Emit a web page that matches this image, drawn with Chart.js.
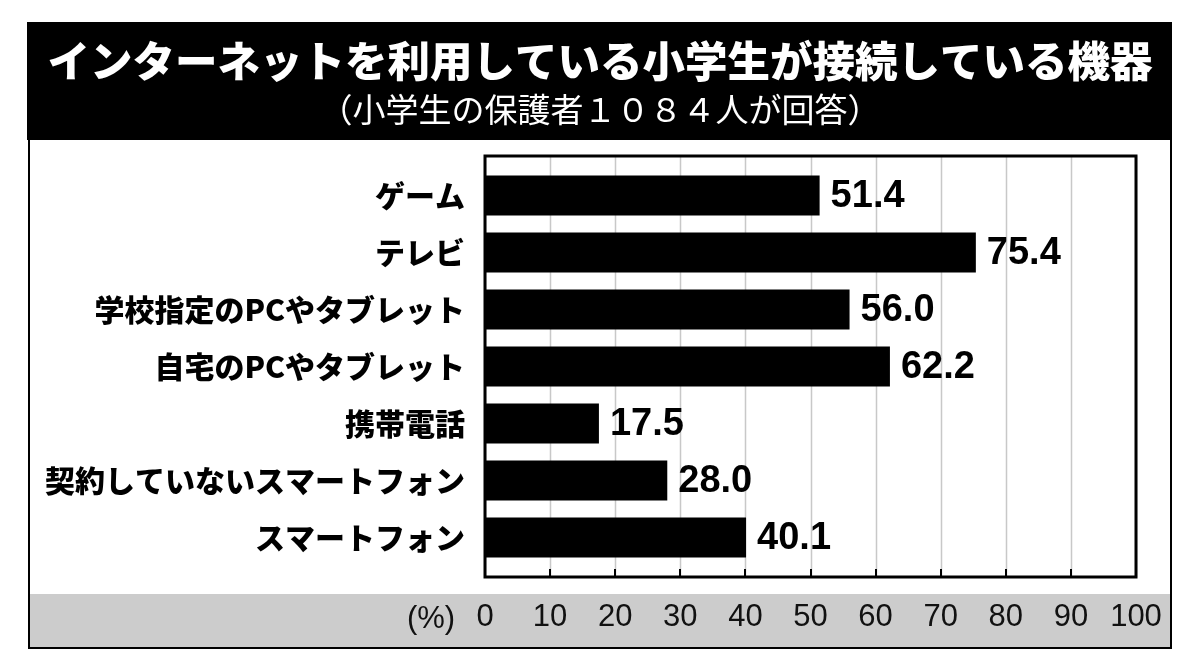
<!DOCTYPE html>
<html><head><meta charset="utf-8">
<script src="https://cdn.jsdelivr.net/npm/chart.js@4/dist/chart.umd.min.js"></script>
<style>html,body{margin:0;padding:0;background:#fff;} #wrap{width:1200px;height:669px;}</style>
</head><body><div id="wrap"><canvas id="c" width="1200" height="669"></canvas></div>
<script>
const titleText = "インターネットを利用している小学生が接続している機器";
const subtitleText = "（小学生の保護者１０８４人が回答）";
const categories = ["ゲーム","テレビ","学校指定のPCやタブレット","自宅のPCやタブレット","携帯電話","契約していないスマートフォン","スマートフォン"];
const values = [51.4, 75.4, 56.0, 62.2, 17.5, 28.0, 40.1];
const tickValues = [0,10,20,30,40,50,60,70,80,90,100];
const unitLabel = "(%)";

const CJK = '"Noto Sans CJK JP", "Noto Sans", sans-serif';
const LATIN = '"Liberation Sans", Arial, sans-serif';
const EXT = 11;

const framePlugin = {
  id: 'frame',
  beforeDraw(chart) {
    const ctx = chart.ctx;
    ctx.save();
    ctx.fillStyle = '#fff'; ctx.fillRect(0, 0, 1200, 669);
    ctx.fillStyle = '#000'; ctx.fillRect(27, 22, 1145, 118);
    ctx.fillStyle = '#cccccc'; ctx.fillRect(28, 594, 1143, 54);
    ctx.strokeStyle = '#000'; ctx.lineWidth = 2;
    ctx.beginPath();
    ctx.moveTo(29, 140); ctx.lineTo(29, 648); ctx.lineTo(1171, 648); ctx.lineTo(1171, 140);
    ctx.stroke();
    ctx.restore();
  },
  beforeDatasetsDraw(chart) {
    const ctx = chart.ctx, xs = chart.scales.x, a = chart.chartArea;
    ctx.save();
    ctx.strokeStyle = '#c8c8c8'; ctx.lineWidth = 1.5;
    tickValues.forEach(v => {
      const x = Math.round(xs.getPixelForValue(v)) + 0.5;
      ctx.beginPath(); ctx.moveTo(x, a.top - EXT); ctx.lineTo(x, a.bottom + EXT); ctx.stroke();
    });
    ctx.restore();
  },
  afterDatasetsDraw(chart) {
    const ctx = chart.ctx, xs = chart.scales.x, a = chart.chartArea;
    ctx.save();
    ctx.strokeStyle = '#000'; ctx.lineWidth = 2;
    tickValues.forEach(v => {
      const x = Math.round(xs.getPixelForValue(v));
      ctx.beginPath(); ctx.moveTo(x, a.bottom + EXT); ctx.lineTo(x, a.bottom + EXT - 8); ctx.stroke();
    });
    ctx.lineWidth = 3;
    const l = xs.getPixelForValue(0), r = xs.getPixelForValue(100);
    ctx.strokeRect(l, a.top - EXT, r - l, a.bottom - a.top + 2 * EXT);
    const meta = chart.getDatasetMeta(0);
    ctx.fillStyle = '#000';
    ctx.font = 'bold 38px ' + LATIN;
    ctx.textBaseline = 'middle'; ctx.textAlign = 'left';
    meta.data.forEach((bar, i) => {
      ctx.fillText(values[i].toFixed(1), bar.x + 11, bar.y + 1);
    });
    ctx.font = '31px ' + LATIN;
    ctx.fillStyle = '#111';
    ctx.textAlign = 'center';
    ctx.fillText(unitLabel, l - 54, 619);
    ctx.restore();
  }
};

new Chart(document.getElementById('c'), {
  type: 'bar',
  data: {
    labels: categories,
    datasets: [{ data: values, backgroundColor: '#000', borderWidth: 0, barPercentage: 0.7, categoryPercentage: 1.0 }]
  },
  options: {
    indexAxis: 'y',
    responsive: false,
    animation: false,
    devicePixelRatio: 1,
    layout: { padding: { left: 32, right: 32, top: 0, bottom: 0 } },
    plugins: {
      legend: { display: false },
      tooltip: { enabled: false },
      title: {
        display: true, text: titleText, color: '#fff',
        font: { family: CJK, size: 42.5, weight: 900, lineHeight: 1.2 },
        padding: { top: 35.5, bottom: 3.5 }
      },
      subtitle: {
        display: true, text: subtitleText, color: '#fff',
        font: { family: CJK, size: 33, weight: 'normal', lineHeight: 1.2 },
        padding: { top: 0, bottom: 37.4 }
      }
    },
    scales: {
      x: {
        type: 'linear', min: 0, max: 100, position: 'bottom',
        grid: { display: false, drawTicks: false },
        border: { display: false },
        afterBuildTicks(scale) { scale.ticks = tickValues.map(v => ({ value: v })); },
        afterFit(scale) { scale.height = 103; },
        ticks: {
          autoSkip: false, maxRotation: 0, padding: 30, color: '#111',
          font: { family: LATIN, size: 31, lineHeight: 1.4 }
        }
      },
      y: {
        grid: { display: false, drawTicks: false },
        border: { display: false },
        afterFit(scale) { scale.width = 453; },
        ticks: {
          padding: 20, color: '#000',
          font: { family: CJK, size: 30, weight: 900 }
        }
      },
      y2: {
        type: 'category', position: 'right', display: true,
        grid: { display: false, drawTicks: false },
        border: { display: false },
        ticks: { display: false },
        afterFit(scale) { scale.width = 32; }
      }
    }
  },
  plugins: [framePlugin]
});
</script></body></html>
